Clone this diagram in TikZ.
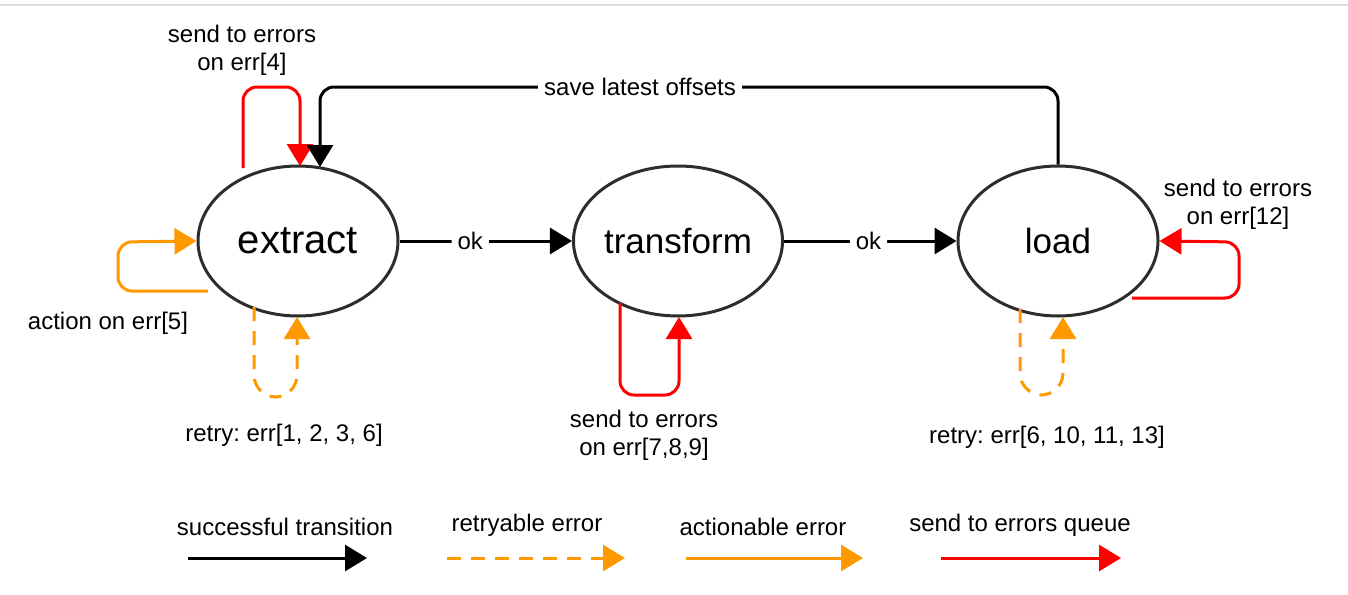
\documentclass[tikz,border=0pt]{standalone}
\usepackage{fontspec}
\setmainfont{Liberation Sans}
\usetikzlibrary{arrows.meta,shapes.geometric}
\definecolor{myorange}{RGB}{255,153,0}
\definecolor{myred}{RGB}{255,0,0}
\definecolor{ellgray}{RGB}{45,45,45}
\frenchspacing
\begin{document}
\begin{tikzpicture}[x=0.5pt,y=-0.5pt,
  state/.style={draw=ellgray, line width=1.5pt, ellipse, minimum width=100pt, minimum height=75pt, inner sep=0pt},
  conn/.style={line width=1.5pt, -{Triangle[length=11pt,width=13pt]}, rounded corners=7pt},
  blk/.style={conn, draw=black},
  redc/.style={conn, draw=myred, -{Triangle[length=11pt,width=13pt,fill=myred]}},
  orc/.style={conn, draw=myorange},
  ordash/.style={conn, draw=myorange, dash pattern=on 7pt off 5pt, rounded corners=11pt},
  lbl/.style={font=\fontsize{12}{14}\selectfont, align=center, inner sep=1pt},
  wlbl/.style={lbl, fill=white, inner sep=3pt},
]
\useasboundingbox (0,0) rectangle (1348,594);
\draw[line width=1pt, black!13] (0,5) -- (1348,5);

\node[state, font=\fontsize{20}{22}\selectfont] (extract) at (298,241) {extract};
\node[state, font=\fontsize{17.5}{20}\selectfont] (transform) at (678,241) {transform};
\node[state, font=\fontsize{17.5}{20}\selectfont] (load) at (1058,241) {load};

% ok transitions
\draw[blk] (extract.east) -- node[wlbl, pos=0.41] (ok1) {ok} (transform.west);
\draw[blk] (transform.east) -- node[wlbl, pos=0.49] (ok2) {ok} (load.west);

% save latest offsets
\coordinate (sv1) at (1058,87);
\coordinate (sv2) at (320,87);
\coordinate (sv3) at (320,167);
\draw[redc] (243,168) coordinate (r4a) -- (243,87) -- (300,87) -- (300,166) coordinate (r4b);
\draw[blk] (load.north) -- (sv1) -- (sv2) -- (sv3);
\node[wlbl] (save) at (640,87) {save latest offsets};

% extract loops
\node[lbl] (l4) at (242,50) {send to errors\\on err[4]};
\draw[orc] (208,291) coordinate (a5a) -- (118,291) -- (118,242) -- (extract.west);
\node[lbl] (l5) at (108,323) {action on err[5]};
\draw[ordash] (254,307) coordinate (rtA) -- (254,397) -- (297,397) -- (297,317) coordinate (rtB);
\node[lbl] (lrt1) at (284,435) {retry: err[1, 2, 3, 6]};

% transform loop
\draw[redc] (620,303) coordinate (t1) -- (620,395) -- (679,395) -- (679,317) coordinate (t2);
\node[lbl] (l789) at (644,435) {send to errors\\on err[7,8,9]};

% load loops
\draw[redc] (1132,298) coordinate (ld1) -- (1239,298) -- (1239,242) -- (load.east);
\node[lbl] (l12) at (1238,204) {send to errors\\on err[12]};
\draw[ordash] (1020,309) coordinate (ld2) -- (1020,395) -- (1063,395) -- (1063,317) coordinate (ld3);
\node[lbl] (lrt2) at (1047,437) {retry: err[6, 10, 11, 13]};

% legend
\node[lbl] (k1) at (285,527) {successful transition};
\node[lbl] (k2) at (527,525) {retryable error};
\node[lbl] (k3) at (763,527) {actionable error};
\node[lbl] (k4) at (1020,525) {send to errors queue};
\coordinate (k1a) at (188,558); \coordinate (k1b) at (367,558);
\coordinate (k2a) at (447,558); \coordinate (k2b) at (625,558);
\coordinate (k3a) at (686,558); \coordinate (k3b) at (863,558);
\coordinate (k4a) at (941,558); \coordinate (k4b) at (1121,558);
\draw[blk] (k1a) -- (k1b);
\draw[ordash] (k2a) -- (k2b);
\draw[orc] (k3a) -- (k3b);
\draw[redc] (k4a) -- (k4b);
\end{tikzpicture}
\end{document}
